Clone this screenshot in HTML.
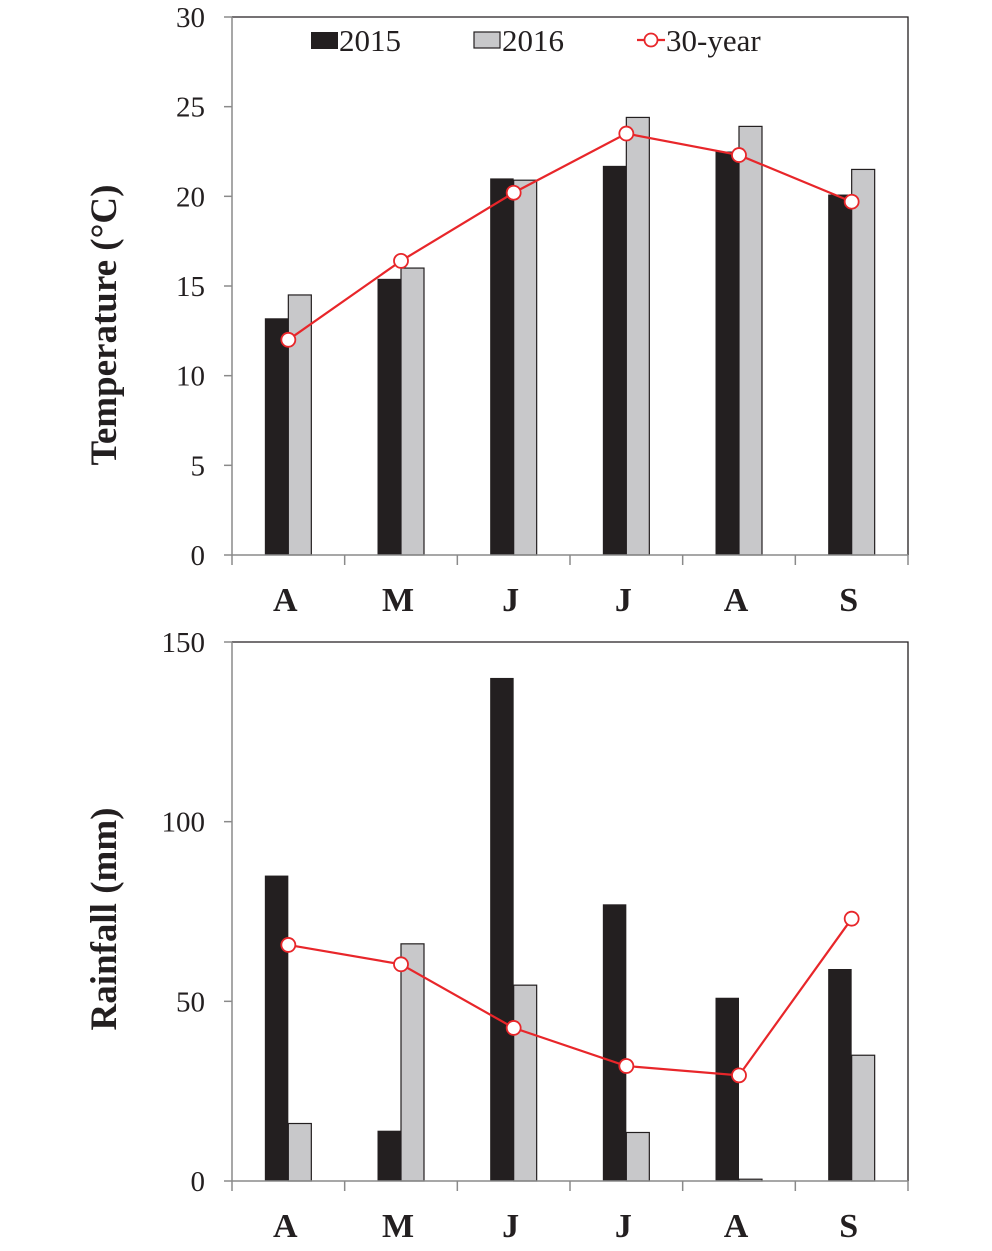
<!DOCTYPE html>
<html><head><meta charset="utf-8"><style>
html,body{margin:0;padding:0;background:#fff;}
svg{display:block;}
text{font-family:"Liberation Serif",serif;fill:#231f20;}
</style></head><body>
<svg id="chart" width="992" height="1251" viewBox="0 0 992 1251" xmlns="http://www.w3.org/2000/svg"></svg>
<script>
const months = ["A","M","J","J","A","S"];
const temp2015 = [13.2,15.4,21.0,21.7,22.5,20.1];
const temp2016 = [14.5,16.0,20.9,24.4,23.9,21.5];
const temp30 = [12.0,16.4,20.2,23.5,22.3,19.7];
const tempTicks = [0,5,10,15,20,25,30];
const rain2015 = [85,14,140,77,51,59];
const rain2016 = [16,66,54.5,13.5,0.5,35];
const rain30 = [65.7,60.3,42.6,32,29.4,73];
const rainTicks = [0,50,100,150];

const NS="http://www.w3.org/2000/svg";
const svg=document.getElementById('chart');
function mk(tag,attrs,parent){const e=document.createElementNS(NS,tag);for(const k in attrs)e.setAttribute(k,attrs[k]);(parent||svg).appendChild(e);return e;}

function drawPanel(cfg){
  const g=mk('g',{});
  
  
  const x0=232,x1=908,y0=cfg.top,y1=cfg.bottom;
  const yMax=cfg.ticks[cfg.ticks.length-1];
  const ys=v=>y1-(v/yMax)*(y1-y0);
  const bw=(x1-x0)/months.length;
  const xc=i=>x0+bw*(i+0.5);
  const fr=mk('path',{d:`M${x0} ${y0}H${x1}V${y1}`,fill:'none',stroke:'#231f20','stroke-width':1.3},g);
  
  
  cfg.ticks.forEach(t=>{
    const y=ys(t);
    const tk=mk('line',{x1:x0-8,x2:x0,y1:y,y2:y,stroke:'#8a8a8a','stroke-width':1.5},g);
    
    
    const tl=mk('text',{x:205,y:y+10,'text-anchor':'end','font-size':29},g);
    tl.textContent=t;
    
    
  });
  months.forEach((m,i)=>{
    const c=xc(i);
    const b1=mk('rect',{x:c-23.5,y:ys(cfg.s1[i]),width:23.5,height:y1-ys(cfg.s1[i]),fill:'#231f20'},g);
    
    
    const b2=mk('rect',{x:c,y:ys(cfg.s2[i]),width:23,height:y1-ys(cfg.s2[i]),fill:'#c8c8ca',stroke:'#231f20','stroke-width':1.2},g);
    
    
  });
  const ax=mk('path',{d:`M${x0} ${y0}V${y1}H${x1}`,fill:'none',stroke:'#8a8a8a','stroke-width':1.5},g);
  
  
  for(let i=0;i<=months.length;i++){
    const x=x0+bw*i;
    const tk=mk('line',{x1:x,x2:x,y1:y1,y2:y1+10,stroke:'#8a8a8a','stroke-width':1.5},g);
    
    
  }
  months.forEach((m,i)=>{
    const t=mk('text',{x:xc(i)-3,y:y1+56,'text-anchor':'middle','font-size':34,'font-weight':'bold'},g);
    t.textContent=m;
    
    
  });
  const pts=cfg.s3.map((v,i)=>xc(i)+','+ys(v)).join(' ');
  const pl=mk('polyline',{points:pts,fill:'none',stroke:'#e8262a','stroke-width':2.2},g);
  
  
  cfg.s3.forEach((v,i)=>{
    const c=mk('circle',{cx:xc(i),cy:ys(v),r:7,fill:'#fff',stroke:'#e8262a','stroke-width':1.8},g);
    
    
  });
  const tt=mk('text',{x:0,y:0,transform:`translate(116 ${cfg.titleY}) rotate(-90)`,'text-anchor':'middle','font-size':37,'font-weight':'bold'},g);
  tt.textContent=cfg.title;
  
  
}
drawPanel({name:'temperature-chart',top:17,bottom:555,ticks:tempTicks,s1:temp2015,s2:temp2016,s3:temp30,title:'Temperature (°C)',titleY:325});
drawPanel({name:'rainfall-chart',top:642,bottom:1181,ticks:rainTicks,s1:rain2015,s2:rain2016,s3:rain30,title:'Rainfall (mm)',titleY:919});

const lg=mk('g',{});


const r1=mk('rect',{x:311,y:32,width:27,height:17,fill:'#231f20'},lg);


const t1=mk('text',{x:339,y:51,'font-size':31},lg);t1.textContent='2015';


const r2=mk('rect',{x:474,y:32,width:26,height:16,fill:'#c8c8ca',stroke:'#231f20','stroke-width':1.2},lg);


const t2=mk('text',{x:502,y:51,'font-size':31},lg);t2.textContent='2016';


const l3=mk('line',{x1:637,x2:665,y1:40,y2:40,stroke:'#e8262a','stroke-width':2.2},lg);


const c3=mk('circle',{cx:651,cy:40,r:6.5,fill:'#fff',stroke:'#e8262a','stroke-width':1.8},lg);


const t3=mk('text',{x:666,y:51,'font-size':31},lg);t3.textContent='30-year';


</script>
</body></html>
